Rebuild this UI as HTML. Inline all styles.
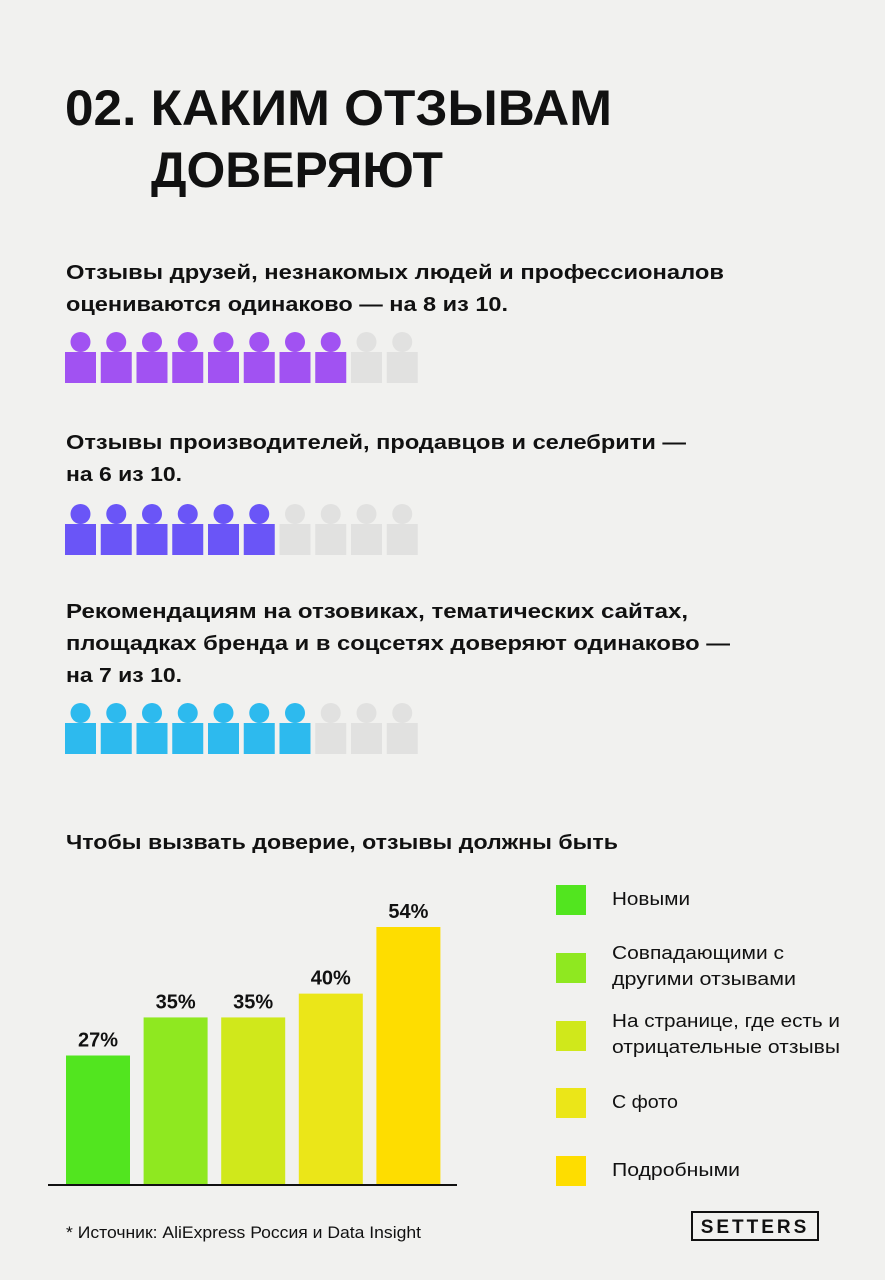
<!DOCTYPE html>
<html><head><meta charset="utf-8"><style>
html,body{margin:0;padding:0;background:#f1f1ef;}
svg{display:block;font-family:"Liberation Sans","DejaVu Sans",sans-serif;}
</style></head><body>
<svg id="page" width="885" height="1280" viewBox="0 0 885 1280">
<rect width="885" height="1280" fill="#f1f1ef"/>
<g font-weight="bold" fill="#111" font-size="50">
<text x="65" y="125" textLength="547" lengthAdjust="spacingAndGlyphs">02. КАКИМ ОТЗЫВАМ</text>
<text x="151" y="187" textLength="292" lengthAdjust="spacingAndGlyphs">ДОВЕРЯЮТ</text>
</g>
<g font-weight="bold" fill="#111" font-size="20">
<text x="66" y="279" textLength="658" lengthAdjust="spacingAndGlyphs">Отзывы друзей, незнакомых людей и профессионалов</text>
<text x="66" y="311" textLength="442" lengthAdjust="spacingAndGlyphs">оцениваются одинаково — на 8 из 10.</text>
<text x="66" y="449" textLength="620" lengthAdjust="spacingAndGlyphs">Отзывы производителей, продавцов и селебрити —</text>
<text x="66" y="481" textLength="116" lengthAdjust="spacingAndGlyphs">на 6 из 10.</text>
<text x="66" y="618" textLength="622" lengthAdjust="spacingAndGlyphs">Рекомендациям на отзовиках, тематических сайтах,</text>
<text x="66" y="650" textLength="664" lengthAdjust="spacingAndGlyphs">площадках бренда и в соцсетях доверяют одинаково —</text>
<text x="66" y="682" textLength="116" lengthAdjust="spacingAndGlyphs">на 7 из 10.</text>
<text x="66" y="849" textLength="552" lengthAdjust="spacingAndGlyphs">Чтобы вызвать доверие, отзывы должны быть</text>
</g>
<g id="icons"></g>
<line x1="48" y1="1185" x2="457" y2="1185" stroke="#111" stroke-width="2"/>
<g id="bars"></g>
<g id="legend"></g>
<text x="66" y="1238" font-size="17" fill="#111" textLength="355" lengthAdjust="spacingAndGlyphs">* Источник: AliExpress Россия и Data Insight</text>
<g>
<rect x="692" y="1212" width="126" height="28" fill="none" stroke="#111" stroke-width="2"/>
<text x="755" y="1233" font-size="19" font-weight="bold" text-anchor="middle" letter-spacing="3" fill="#111">SETTERS</text>
</g>
</svg>
<script>
const ratingScores = [8, 6, 7];
const ratingColors = ["#a152f2", "#6a55f7", "#2dbaee"];
const ratingRowTops = [352, 524, 723];
const barCategories = ["Новыми", "Совпадающими с другими отзывами", "На странице, где есть и отрицательные отзывы", "С фото", "Подробными"];
const barValues = [27, 35, 35, 40, 54];
const barLabels = ["27%", "35%", "35%", "40%", "54%"];
const barColors = ["#52e51f", "#8fe820", "#d0e81b", "#ebe618", "#fedd00"];
const legendLines = [["Новыми"], ["Совпадающими с", "другими отзывами"], ["На странице, где есть и", "отрицательные отзывы"], ["С фото"], ["Подробными"]];
const legendWidths = [[78], [172, 184], [228, 228], [66], [128]];

const NS = "http://www.w3.org/2000/svg";
function mk(tag, attrs, parent) {
  const e = document.createElementNS(NS, tag);
  for (const k in attrs) e.setAttribute(k, attrs[k]);
  parent.appendChild(e);
  return e;
}
const icons = document.getElementById("icons");
const iconX = i => 65 + i * 35.75;
ratingScores.forEach((score, r) => {
  const top = ratingRowTops[r];
  for (let i = 0; i < 10; i++) {
    const col = i < score ? ratingColors[r] : "#e1e1e0";
    const g = mk("g", {}, icons);
    
    
    const c = mk("circle", {cx: iconX(i) + 15.5, cy: top - 10, r: 10, fill: col}, g);
    
    
    const s = mk("rect", {x: iconX(i), y: top, width: 31, height: 31, fill: col}, g);
    
    
  }
});

const bars = document.getElementById("bars");
const baseY = 1184, pxPer = 257 / 54;
const yScale = v => baseY - v * pxPer;
const xBand = i => 66 + i * 77.6;
barValues.forEach((v, i) => {
  const y = yScale(v);
  const r = mk("rect", {x: xBand(i), y: y, width: 64, height: baseY - y, fill: barColors[i]}, bars);
  
  
  const t = mk("text", {x: xBand(i) + 32, y: y - 9, "text-anchor": "middle", "font-size": 20, "font-weight": "bold", fill: "#111"}, bars);
  t.textContent = barLabels[i];
  
  
});

const legend = document.getElementById("legend");
const legendTops = [885, 953, 1021, 1088, 1156];
barCategories.forEach((cat, i) => {
  const g = mk("g", {}, legend);
  
  
  const sw = mk("rect", {x: 556, y: legendTops[i], width: 30, height: 30, fill: barColors[i]}, g);
  
  
  const lines = legendLines[i];
  const startY = lines.length === 1 ? legendTops[i] + 20 : legendTops[i] + 6;
  lines.forEach((ln, j) => {
    const t = mk("text", {x: 612, y: startY + j * 26, "font-size": 18.5, fill: "#111", textLength: legendWidths[i][j], lengthAdjust: "spacingAndGlyphs"}, g);
    t.textContent = ln;
    
    
  });
});
</script>
</body></html>
